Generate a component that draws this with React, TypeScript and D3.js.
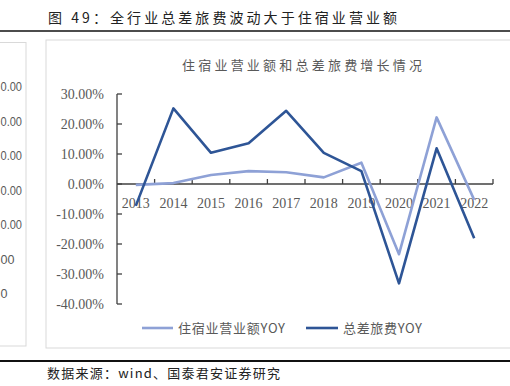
import React from "react";
import * as d3 from "d3";

const years = ["2013", "2014", "2015", "2016", "2017", "2018", "2019", "2020", "2021", "2022"];
const lodgingYoY = [-0.3, 0.3, 3.0, 4.3, 3.9, 2.2, 7.1, -23.4, 22.2, -5.3];
const travelYoY = [-7.3, 25.2, 10.4, 13.6, 24.4, 10.4, 4.3, -33.1, 11.9, -18.1];
const yTicks = [30, 20, 10, 0, -10, -20, -30, -40];
const seriesNames = ["住宿业营业额YOY", "总差旅费YOY"];
const leftFragments = ["0.00", "0.00", "0.00", "0.00", "0.00", "00", "0"];

const W = 510;
const H = 386;
const LIGHT = "#8EA1D6";
const DARK = "#2E5596";
const TEXT = "#595959";
const AXIS = "#404040";

export default function App() {
  const x = d3.scaleBand<string>().domain(years).range([117, 493]);
  const y = d3.scaleLinear().domain([-40, 30]).range([304, 94]);
  const cx = (d: string) => (x(d) as number) + x.bandwidth() / 2;
  const line = d3
    .line<number>()
    .x((_, i) => cx(years[i]))
    .y((v) => y(v));

  const leftY = d3.scaleLinear().domain([0, leftFragments.length - 1]).range([86, 293]);
  const leftLen = [21.5, 21.5, 21.5, 21.5, 21.5, 14, 7];

  const cjk = "'Noto Sans CJK SC', sans-serif";
  const serif = "'Liberation Serif', 'Times New Roman', serif";

  return (
    <svg
      width={W}
      height={H}
      style={{ position: "absolute", left: 0, top: 0, background: "#fff" }}
    >
      {/* header */}
      <text x={48} y={23} fontFamily={cjk} fontSize={14} fill="#222" textLength={349} lengthAdjust="spacing">
        图 49：全行业总差旅费波动大于住宿业营业额
      </text>
      <line x1={0} x2={W} y1={31} y2={31} stroke="#111" strokeWidth={1.5} />

      {/* left neighbouring panel fragment */}
      <rect x={-10} y={42.5} width={36} height={303.5} fill="none" stroke="#d9d9d9" />
      {leftFragments.map((t, i) => (
        <text
          key={i}
          x={0.5}
          y={leftY(i) + 5}
          fontFamily="'Liberation Sans', Arial, sans-serif"
          fontSize={13}
          fill={TEXT}
          textLength={leftLen[i]}
          lengthAdjust="spacingAndGlyphs"
        >
          {t}
        </text>
      ))}

      {/* main panel */}
      <rect x={46} y={40} width={480} height={308} fill="none" stroke="#d9d9d9" />
      <text x={182} y={70} fontFamily={cjk} fontSize={13} fill={TEXT} textLength={240} lengthAdjust="spacing">
        住宿业营业额和总差旅费增长情况
      </text>

      {/* y axis */}
      <line x1={117} x2={117} y1={y(30)} y2={y(-40)} stroke={AXIS} strokeWidth={1.3} />
      {yTicks.map((t) => (
        <g key={t}>
          <line x1={117} x2={122} y1={y(t)} y2={y(t)} stroke={AXIS} strokeWidth={1.3} />
          <text
            x={104}
            y={y(t) + 5}
            textAnchor="end"
            fontFamily={serif}
            fontSize={14}
            fill={TEXT}
          >
            {t.toFixed(2) + "%"}
          </text>
        </g>
      ))}

      {/* x axis */}
      <line x1={117} x2={493} y1={y(0)} y2={y(0)} stroke={AXIS} strokeWidth={1.3} />
      {years.map((yr) => (
        <line
          key={"t" + yr}
          x1={(x(yr) as number) + x.bandwidth()}
          x2={(x(yr) as number) + x.bandwidth()}
          y1={y(0)}
          y2={y(0) - 5}
          stroke={AXIS}
          strokeWidth={1.3}
        />
      ))}
      {years.map((yr) => (
        <text
          key={"l" + yr}
          x={cx(yr)}
          y={y(0) + 24}
          textAnchor="middle"
          fontFamily={serif}
          fontSize={14}
          fill={TEXT}
        >
          {yr}
        </text>
      ))}

      {/* series */}
      <path d={line(lodgingYoY) || ""} fill="none" stroke={LIGHT} strokeWidth={2.6} strokeLinejoin="round" />
      <path d={line(travelYoY) || ""} fill="none" stroke={DARK} strokeWidth={2.6} strokeLinejoin="round" />

      {/* legend */}
      <line x1={142} x2={173} y1={328} y2={328} stroke={LIGHT} strokeWidth={2.6} />
      <text x={178} y={333} fontFamily={cjk} fontSize={13} fill={TEXT} textLength={107} lengthAdjust="spacing">
        {seriesNames[0]}
      </text>
      <line x1={306} x2={338} y1={328} y2={328} stroke={DARK} strokeWidth={2.6} />
      <text x={343} y={333} fontFamily={cjk} fontSize={13} fill={TEXT} textLength={79} lengthAdjust="spacing">
        {seriesNames[1]}
      </text>

      {/* footer */}
      <line x1={0} x2={W} y1={361} y2={361} stroke="#111" strokeWidth={2} />
      <text x={47} y={378} fontFamily={cjk} fontSize={13} fill="#222" textLength={233} lengthAdjust="spacing">
        数据来源：wind、国泰君安证券研究
      </text>
    </svg>
  );
}
